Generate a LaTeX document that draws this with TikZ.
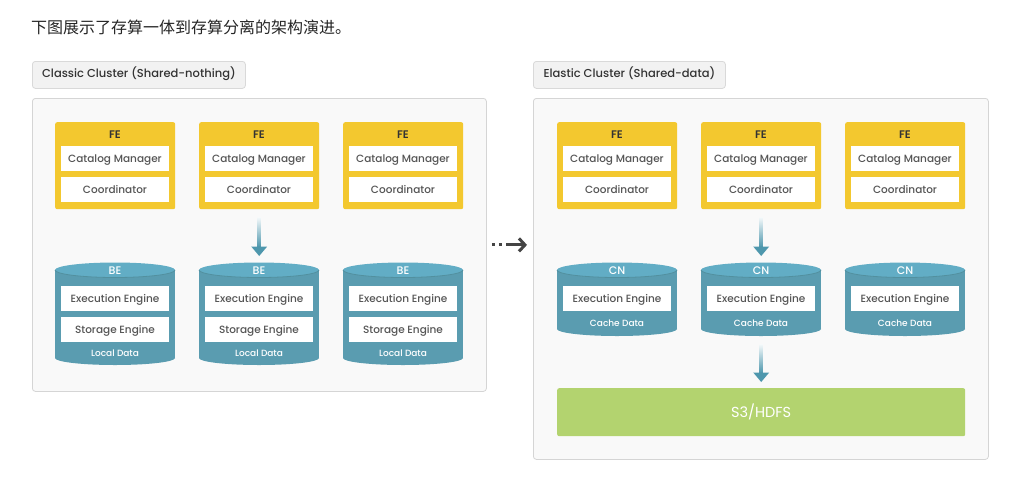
\documentclass[tikz,border=0pt]{standalone}
\usepackage{fontspec}
\setmainfont{Poppins}[UprightFont=* Medium, BoldFont=* SemiBold]
\newfontfamily\regfont{Poppins}
\newfontfamily\cjk{Noto Sans CJK SC}
\usetikzlibrary{arrows.meta}
\definecolor{feyellow}{HTML}{F3C82F}
\definecolor{tealbody}{HTML}{5A9CB0}
\definecolor{tealtop}{HTML}{62ADC5}
\definecolor{tealrim}{HTML}{52909F}
\definecolor{arrowteal}{HTML}{4E97AD}
\definecolor{s3green}{HTML}{B3D36F}
\definecolor{panelfill}{HTML}{F9F9F9}
\definecolor{panelline}{HTML}{D5D5D5}
\definecolor{tabfill}{HTML}{F2F2F2}
\definecolor{tabline}{HTML}{D9D9D9}
\definecolor{innertext}{HTML}{555555}
\definecolor{darktext}{HTML}{333333}
\definecolor{dotgray}{HTML}{444444}
\tikzset{
  panel/.style={draw=panelline, fill=panelfill, rounded corners=3pt, line width=0.8pt, anchor=north west, inner sep=0pt},
  tab/.style={draw=tabline, fill=tabfill, rounded corners=3pt, line width=0.8pt, anchor=north west, inner sep=0pt, font=\fontsize{11.5}{13}\selectfont, text=darktext, text height=8.5pt, text depth=2.5pt},
  febox/.style={fill=feyellow, rounded corners=2pt, anchor=north west, minimum width=120pt, minimum height=87pt, inner sep=0pt},
  fetitle/.style={font=\bfseries\fontsize{11}{12}\selectfont, text=darktext, inner sep=0pt, text height=7.8pt, text depth=0pt},
  cyltitle/.style={font=\fontsize{11}{12}\selectfont, text=white, inner sep=0pt, text height=7.8pt, text depth=0pt},
  cylfoot/.style={font=\fontsize{9}{10}\selectfont, text=white, inner sep=0pt, text height=6.5pt, text depth=0pt},
  innerbox/.style={fill=white, minimum width=108pt, minimum height=25pt, inner sep=0pt, font=\fontsize{10.5}{12}\selectfont, text=innertext, text height=7.6pt, text depth=0pt},
  nodebox/.style={anchor=north west, minimum width=120pt, inner sep=0pt},
  flowarrow/.style={top color=arrowteal!8!white, bottom color=arrowteal}
}
\newcommand{\FEunit}[3]{%
  \node[febox] (#1) at (#2,#3) {};
  \node[fetitle] (#1t) at (#2+60,#3+12.5) {FE};
  \node[innerbox] (#1c) at (#2+60,#3+36.5) {Catalog Manager};
  \node[innerbox] (#1o) at (#2+60,#3+67.5) {Coordinator};
}
\newcommand{\cylshape}[4]{% x, top center y, bottom center y, name
  \fill[tealbody] (#1,#2) rectangle (#1+120,#3);
  \fill[tealbody] (#1+60,#3) ellipse [x radius=60, y radius=7];
  \fill[tealtop] (#1+60,#2) ellipse [x radius=60, y radius=7.5];
  \draw[tealrim, line width=0.8pt] (#1+120,#2) arc [start angle=0, end angle=180, x radius=60, y radius=7.5];
}
\newcommand{\BEunit}[2]{%
  \node[nodebox, minimum height=104pt] (#1) at (#2,262) {};
  \cylshape{#2}{270}{358}{#1}
  \node[cyltitle] (#1t) at (#2+60,271) {BE};
  \node[innerbox] (#1e) at (#2+60,298.5) {Execution Engine};
  \node[innerbox] (#1s) at (#2+60,329.5) {Storage Engine};
  \node[cylfoot] (#1d) at (#2+60,353.5) {Local Data};
}
\newcommand{\CNunit}[2]{%
  \node[nodebox, minimum height=74pt] (#1) at (#2,262) {};
  \cylshape{#2}{270}{329}{#1}
  \node[cyltitle] (#1t) at (#2+60,271) {CN};
  \node[innerbox] (#1e) at (#2+60,298.5) {Execution Engine};
  \node[cylfoot] (#1d) at (#2+60,323.5) {Cache Data};
}
\newcommand{\flowdown}[2]{% from node, to node
  \shade[flowarrow] ([xshift=-1.6pt,yshift=-8.5pt]#1.south) rectangle ([xshift=1.6pt,yshift=15pt]#2.north);
  \fill[arrowteal] ([xshift=-8pt,yshift=15.5pt]#2.north) -- ([xshift=8pt,yshift=15.5pt]#2.north) -- ([yshift=6pt]#2.north) -- cycle;
}
\begin{document}
\begin{tikzpicture}[x=1pt,y=-1pt]
\useasboundingbox[fill=white] (0,0) rectangle (1034,477);
% title
\node[anchor=west, inner sep=0pt, font=\cjk\fontsize{16}{18}\selectfont, text=black!85] (title) at (31,27) {下图展示了存算一体到存算分离的架构演进。};
% tabs
\node[tab, minimum width=213pt, minimum height=27pt] (tabL) at (32,61) {Classic Cluster (Shared-nothing)};
\node[tab, minimum width=192pt, minimum height=27pt] (tabR) at (533,61) {Elastic Cluster (Shared-data)};
% panels
\node[panel, minimum width=454pt, minimum height=293pt] (lp) at (32,98) {};
\node[panel, minimum width=455pt, minimum height=361pt] (rp) at (533,98) {};
% left
\FEunit{feA}{55}{122}
\FEunit{feB}{199}{122}
\FEunit{feC}{343}{122}
\BEunit{beA}{55}
\BEunit{beB}{199}
\BEunit{beC}{343}
\flowdown{feB}{beB}
% right
\FEunit{feD}{557}{122}
\FEunit{feE}{701}{122}
\FEunit{feF}{845}{122}
\CNunit{cnA}{557}
\CNunit{cnB}{701}
\CNunit{cnC}{845}
\node[anchor=north west, fill=s3green, rounded corners=2pt, minimum width=408pt, minimum height=48pt, inner sep=0pt, text=white, font=\regfont\fontsize{14.5}{16}\selectfont] (s3) at (557,388) {S3/HDFS};
\flowdown{feE}{cnB}
\flowdown{cnB}{s3}
% evolution arrow
\draw[dotgray, line width=3pt, dash pattern=on 3pt off 4pt on 3pt off 4pt on 30pt, -{Straight Barb[length=6pt,width=13pt]}] ([xshift=5pt]lp.east) -- ([xshift=-6pt]lp.east -| rp.west);
\end{tikzpicture}
\end{document}
